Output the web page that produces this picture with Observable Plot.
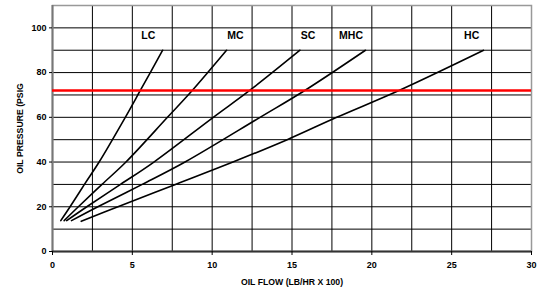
<!DOCTYPE html>
<html>
<head>
<meta charset="utf-8">
<script src="https://cdn.jsdelivr.net/npm/d3@7"></script>
<script src="https://cdn.jsdelivr.net/npm/@observablehq/plot@0.6"></script>
<style>
  html, body { margin: 0; padding: 0; background: #fff; }
  svg { display: block; }
</style>
</head>
<body>
<div id="chart"></div>
<script>
// Series names
const seriesNames = ["LC", "MC", "SC", "MHC", "HC"];

// Oil flow (lb/hr x 100) vs oil pressure (psig) for each series
const lcFlow      = [0.52, 1.1, 2.0, 2.92, 4.56, 5.5, 6.9];
const lcPressure  = [13.8, 20, 30, 40, 60, 72, 90];

const mcFlow      = [0.73, 1.62, 3.1, 4.6, 7.2, 8.75, 10.9];
const mcPressure  = [13.8, 20, 30, 40, 60, 72, 90];

const scFlow      = [0.89, 2.15, 4.26, 6.35, 10.07, 12.35, 15.5];
const scPressure  = [13.8, 20, 30, 40, 60, 72, 90];

const mhcFlow     = [1.19, 2.84, 5.62, 8.3, 13.0, 15.8, 19.6];
const mhcPressure = [13.8, 20, 30, 40, 60, 72, 90];

const hcFlow      = [1.8, 4.1, 7.7, 11.3, 14.7, 17.8, 21.7, 27.0];
const hcPressure  = [13.5, 20, 30, 40, 50, 60, 72, 90];

// Label anchor values for series names
const labelFlow     = [6.0, 11.46, 16.0, 18.7, 26.25];
const labelPressure = [96.5, 96.5, 96.5, 96.5, 96.5];

// Reference pressure line
const refPressure = [72];

// Ticks
const xTicks = [0, 5, 10, 15, 20, 25, 30];
const yTicks = [0, 20, 40, 60, 80, 100];
const xGrid = [2.5, 5, 7.5, 10, 12.5, 15, 17.5, 20, 22.5, 25, 27.5];
const yGrid = [10, 20, 30, 40, 50, 60, 70, 80, 90, 100];

const flows = [lcFlow, mcFlow, scFlow, mhcFlow, hcFlow];
const pressures = [lcPressure, mcPressure, scPressure, mhcPressure, hcPressure];
const rows = seriesNames.flatMap((name, i) =>
  flows[i].map((f, j) => ({series: name, flow: f, pressure: pressures[i][j]}))
);
const labels = seriesNames.map((name, i) => ({series: name, flow: labelFlow[i], pressure: labelPressure[i]}));

const font = "'Liberation Sans', Arial, sans-serif";

const chart = Plot.plot({
  width: 543,
  height: 290,
  marginLeft: 52,
  marginRight: 12,
  marginTop: 5,
  marginBottom: 39,
  style: {fontFamily: font, fontWeight: "bold", color: "#000", background: "#fff"},
  x: {domain: [0, 30]},
  y: {domain: [0, 110]},
  marks: [
    Plot.gridX(xGrid, {stroke: "#000", strokeOpacity: 1, strokeWidth: 1}),
    Plot.gridY(yGrid, {stroke: "#000", strokeOpacity: 1, strokeWidth: 1}),
    Plot.frame({stroke: "#999", strokeWidth: 1.5}),
    Plot.ruleX([0], {stroke: "#777", strokeWidth: 2}),
    Plot.ruleY([0], {stroke: "#333", strokeWidth: 2}),
    Plot.axisX({
      ticks: xTicks, tickSize: 4, tickPadding: 6, fontSize: 9, fontWeight: "bold",
      label: "OIL FLOW (LB/HR X 100)", labelAnchor: "center", labelOffset: 33, labelArrow: "none"
    }),
    Plot.axisY({
      ticks: yTicks, tickSize: 3, tickPadding: 3, fontSize: 9, fontWeight: "bold",
      label: "OIL PRESSURE (PSIG", labelAnchor: "center", labelOffset: 36, labelArrow: "none"
    }),
    Plot.line(rows, {x: "flow", y: "pressure", z: "series", stroke: "#000", strokeWidth: 1.6, curve: "catmull-rom"}),
    Plot.ruleY(refPressure, {stroke: "#f00", strokeWidth: 2.6}),
    Plot.text(labels, {x: "flow", y: "pressure", text: "series", fontSize: 10.5, fontWeight: "bold", fill: "#000"})
  ]
});

// Make axis labels match size
chart.querySelectorAll("[aria-label='x-axis label'] text, [aria-label='y-axis label'] text").forEach(t => {
  t.setAttribute("font-size", "8.7");
  t.style.fontSize = "8.7px";
});

document.getElementById("chart").append(chart);
</script>
</body>
</html>
